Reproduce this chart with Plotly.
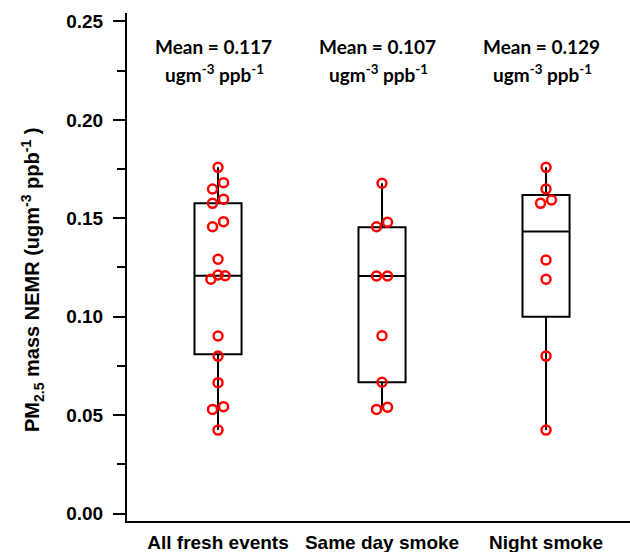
import plotly.graph_objects as go

# ---------------- data ----------------
categories = ["All fresh events", "Same day smoke", "Night smoke"]

all_fresh = [0.1759, 0.1681, 0.1649, 0.1597, 0.1576, 0.1483, 0.1457, 0.1292,
             0.1212, 0.1208, 0.1190, 0.0902, 0.0800, 0.0665, 0.0543, 0.0529, 0.0424]
same_day = [0.1678, 0.1480, 0.1457, 0.1207, 0.1207, 0.0903, 0.0667, 0.0540, 0.0529]
night = [0.1759, 0.1649, 0.1593, 0.1576, 0.1288, 0.1190, 0.0800, 0.0424]

box_q1 = [0.0809, 0.0667, 0.1000]
box_median = [0.1208, 0.1207, 0.1433]
box_q3 = [0.1576, 0.1454, 0.1618]
box_low = [0.0424, 0.0529, 0.0424]
box_high = [0.1759, 0.1678, 0.1759]

mean_labels = ["0.117", "0.107", "0.129"]

y_ticks = [0.00, 0.05, 0.10, 0.15, 0.20, 0.25]

groups = [all_fresh, same_day, night]

# ---------------- layout geometry ----------------
W, H = 630, 552
ML, MR, MT, MB = 127, 0, 13, 31
plot_w = W - ML - MR
plot_h = H - MT - MB
x_range = [-0.555, 2.512]
y_range = [-0.0038, 0.2543]
px_per_x = plot_w / (x_range[1] - x_range[0])
px_per_y = plot_h / (y_range[1] - y_range[0])


def swarm_offsets(vals, thresh_px=8.0, d_px=5.5):
    """Deterministic side-by-side placement of nearly overlapping points."""
    order = sorted(range(len(vals)), key=lambda i: -vals[i])
    clusters, cur = [], [order[0]]
    for i in order[1:]:
        if (vals[cur[-1]] - vals[i]) * px_per_y < thresh_px:
            cur.append(i)
        else:
            clusters.append(cur)
            cur = [i]
    clusters.append(cur)
    offs = [0.0] * len(vals)
    d = d_px / px_per_x
    for c in clusters:
        if len(c) == 2:
            pat = [d, -d]
        elif len(c) == 3:
            pat = [0, d * 1.3, -d * 1.3]
        else:
            pat = [0] + [s * d * ((k + 2) // 2) for k, s in
                         zip(range(len(c) - 1), [1, -1] * len(c))]
        for idx, o in zip(c, pat):
            offs[idx] = o
    return offs


fig = go.Figure()

fig.add_trace(go.Box(
    x=[0, 1, 2],
    q1=box_q1, median=box_median, q3=box_q3,
    lowerfence=box_low, upperfence=box_high,
    width=0.287, whiskerwidth=0,
    line=dict(color="black", width=2),
    fillcolor="rgba(255,255,255,0)",
    boxpoints=False, showlegend=False, hoverinfo="skip",
))

for gi, vals in enumerate(groups):
    offs = swarm_offsets(vals)
    fig.add_trace(go.Scatter(
        x=[gi + o for o in offs], y=vals, mode="markers",
        marker=dict(symbol="circle-open", size=9, color="#ff0000",
                    line=dict(width=2.5, color="#ff0000")),
        showlegend=False,
    ))

ann_font = dict(family="Lato", size=19, color="black", weight="bold")
for gi, m in enumerate(mean_labels):
    fig.add_annotation(x=gi, y=0.2375, xref="x", yref="y", xshift=-5,
                       text=f"<b>Mean = {m}</b>", showarrow=False, font=ann_font,
                       xanchor="center", yanchor="middle")
    fig.add_annotation(x=gi, y=0.2238, xref="x", yref="y", xshift=-4,
                       text="<b>ugm<sup>-3</sup> ppb<sup>-1</sup></b>", showarrow=False,
                       font=ann_font, xanchor="center", yanchor="middle")

fig.add_annotation(
    x=(32 - ML) / plot_w, y=1 - (280 - MT) / plot_h, xref="paper", yref="paper",
    text="<b>PM<sub>2.5</sub> mass NEMR (ugm<sup>-3</sup> ppb<sup>-1</sup> )</b>",
    textangle=-90, showarrow=False, xanchor="center", yanchor="middle",
    font=dict(family="Liberation Sans", size=20, color="black", weight="bold"),
)

fig.update_layout(
    width=W, height=H,
    margin=dict(l=ML, r=MR, t=MT, b=MB, pad=0),
    paper_bgcolor="white", plot_bgcolor="white",
    showlegend=False,
    xaxis=dict(
        range=x_range, tickvals=[0, 1, 2], ticktext=[f"<b>{c}</b>" for c in categories],
        showgrid=False, zeroline=False, showline=True, linecolor="black",
        linewidth=2, ticks="", ticklabelstandoff=3,
        tickfont=dict(family="Liberation Sans", size=19, color="black", weight="bold"),
    ),
    yaxis=dict(
        range=y_range, tickvals=y_ticks, ticktext=[f"<b>{t:.2f}</b>" for t in y_ticks],
        showgrid=False, zeroline=False, showline=True, linecolor="black",
        linewidth=2, ticks="outside", ticklen=12, tickwidth=2, tickcolor="black",
        ticklabelstandoff=6,
        minor=dict(ticks="outside", ticklen=8, tickwidth=1.5, tickcolor="black", dtick=0.025),
        tickfont=dict(family="Liberation Sans", size=19, color="black", weight="bold"),
    ),
)

fig.write_html("out.html")
